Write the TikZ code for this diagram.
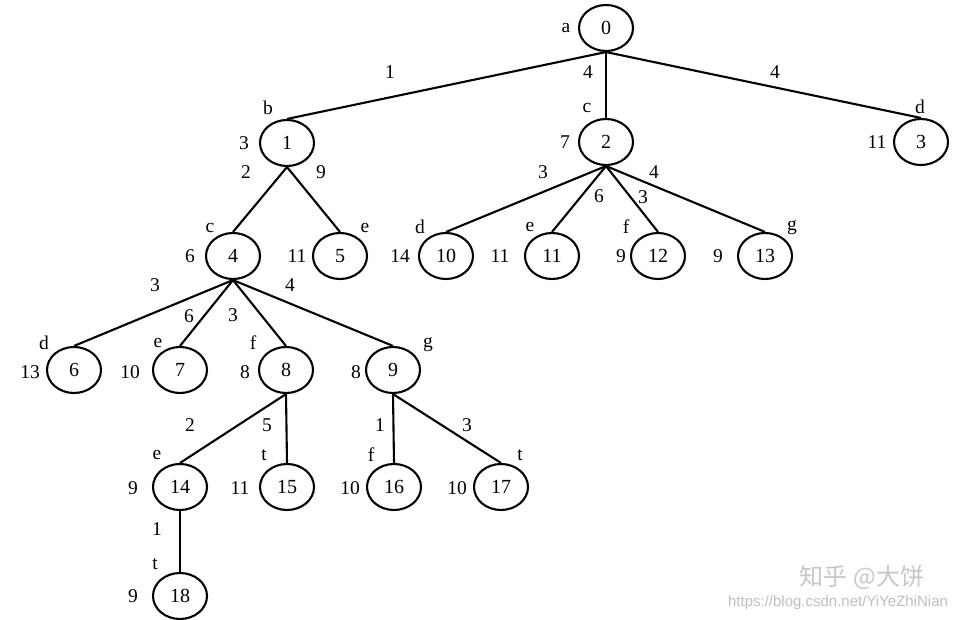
\documentclass[tikz,border=0pt]{standalone}
\usepackage{fontspec}
\setmainfont{Liberation Serif}
\newfontfamily\cjk{Noto Sans CJK SC}
\newfontfamily\wmsans{Liberation Sans}
\usetikzlibrary{shapes.geometric}
\begin{document}
\begin{tikzpicture}[x=1pt,y=-1pt,
  st/.style={draw, ellipse, line width=2.1pt, minimum width=54pt, minimum height=46pt, inner sep=0pt, font=\fontsize{20}{22}\selectfont},
  lbl/.style={inner sep=0pt, font=\fontsize{19.5}{21}\selectfont},
  edge/.style={line width=2.1pt}]
\useasboundingbox (0,0) rectangle (963,620);
% state nodes
\node[st] (n0) at (606,28) {0};
\node[st] (n1) at (287,143) {1};
\node[st] (n2) at (606,142) {2};
\node[st] (n3) at (921,142) {3};
\node[st] (n4) at (233,256) {4};
\node[st] (n5) at (340,256) {5};
\node[st] (n10) at (446,256) {10};
\node[st] (n11) at (552,256) {11};
\node[st] (n12) at (658,256) {12};
\node[st] (n13) at (765,256) {13};
\node[st] (n6) at (74,370) {6};
\node[st] (n7) at (180,370) {7};
\node[st] (n8) at (286,370) {8};
\node[st] (n9) at (393,370) {9};
\node[st] (n14) at (180,487) {14};
\node[st] (n15) at (287,487) {15};
\node[st] (n16) at (394,487) {16};
\node[st] (n17) at (501,487) {17};
\node[st] (n18) at (180,596) {18};
% edges
\draw[edge] (n0.south) -- (n1.north);
\draw[edge] (n0.south) -- (n2.north);
\draw[edge] (n0.south) -- (n3.north);
\draw[edge] (n1.south) -- (n4.north);
\draw[edge] (n1.south) -- (n5.north);
\draw[edge] (n2.south) -- (n10.north);
\draw[edge] (n2.south) -- (n11.north);
\draw[edge] (n2.south) -- (n12.north);
\draw[edge] (n2.south) -- (n13.north);
\draw[edge] (n4.south) -- (n6.north);
\draw[edge] (n4.south) -- (n7.north);
\draw[edge] (n4.south) -- (n8.north);
\draw[edge] (n4.south) -- (n9.north);
\draw[edge] (n8.south) -- (n14.north);
\draw[edge] (n8.south) -- (n15.north);
\draw[edge] (n9.south) -- (n16.north);
\draw[edge] (n9.south) -- (n17.north);
\draw[edge, line width=1.5pt] (n14.south) -- (n18.north);
% vertex letters and costs
\node[lbl] (la0) at (566,28) {a};
\node[lbl] (lb1) at (268,108) {b};
\node[lbl] (lc1) at (244,143) {3};
\node[lbl] (lb2) at (587,108) {c};
\node[lbl] (lc2) at (565,142) {7};
\node[lbl] (lb3) at (920,107) {d};
\node[lbl] (lc3) at (877,142) {11};
\node[lbl] (lb4) at (210,228) {c};
\node[lbl] (lc4) at (190,256) {6};
\node[lbl] (lb5) at (365,228) {e};
\node[lbl] (lc5) at (297,256) {11};
\node[lbl] (lb10) at (420,227) {d};
\node[lbl] (lc10) at (400,256) {14};
\node[lbl] (lb11) at (530,227) {e};
\node[lbl] (lc11) at (500,256) {11};
\node[lbl] (lb12) at (626,227) {f};
\node[lbl] (lc12) at (621,256) {9};
\node[lbl] (lb13) at (792,228) {g};
\node[lbl] (lc13) at (718,256) {9};
\node[lbl] (lb6) at (44,343) {d};
\node[lbl] (lc6) at (30,372) {13};
\node[lbl] (lb7) at (158,343) {e};
\node[lbl] (lc7) at (130,372) {10};
\node[lbl] (lb8) at (253,343) {f};
\node[lbl] (lc8) at (245,372) {8};
\node[lbl] (lb9) at (428,345) {g};
\node[lbl] (lc9) at (356,372) {8};
\node[lbl] (lb14) at (157,455) {e};
\node[lbl] (lc14) at (133,488) {9};
\node[lbl] (lb15) at (264,455) {t};
\node[lbl] (lc15) at (240,488) {11};
\node[lbl] (lb16) at (371,455) {f};
\node[lbl] (lc16) at (350,488) {10};
\node[lbl] (lb17) at (520,455) {t};
\node[lbl] (lc17) at (457,488) {10};
\node[lbl] (lb18) at (155,564) {t};
\node[lbl] (lc18) at (133,596) {9};
% edge weights
\node[lbl] (w01) at (390,72) {1};
\node[lbl] (w02) at (588,72) {4};
\node[lbl] (w03) at (775,72) {4};
\node[lbl] (w14) at (246,172) {2};
\node[lbl] (w15) at (321,172) {9};
\node[lbl] (w210) at (543,172) {3};
\node[lbl] (w211) at (599,196) {6};
\node[lbl] (w212) at (643,197) {3};
\node[lbl] (w213) at (654,172) {4};
\node[lbl] (w46) at (155,285) {3};
\node[lbl] (w47) at (189,316) {6};
\node[lbl] (w48) at (233,315) {3};
\node[lbl] (w49) at (290,285) {4};
\node[lbl] (w814) at (190,425) {2};
\node[lbl] (w815) at (267,425) {5};
\node[lbl] (w916) at (380,425) {1};
\node[lbl] (w917) at (467,425) {3};
\node[lbl] (w1418) at (157,529) {1};
% watermark
\node[inner sep=0pt, text=black!22, font=\cjk\fontsize{24}{26}\selectfont] (wm1) at (862,577) {知乎 @大饼};
\node[inner sep=0pt, text=black!25, font=\wmsans\fontsize{15}{17}\selectfont] (wm2) at (838,603) {https://blog.csdn.net/YiYeZhiNian};
\end{tikzpicture}
\end{document}
